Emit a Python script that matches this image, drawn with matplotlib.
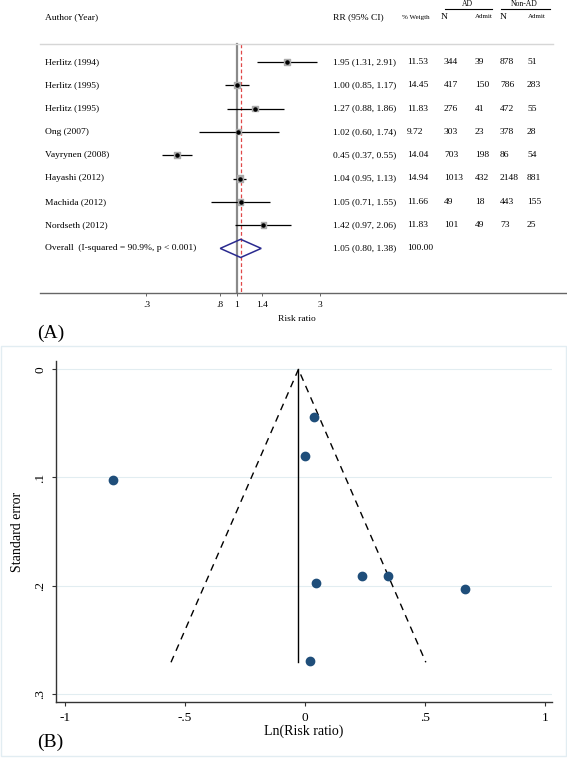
import numpy as np
import matplotlib
matplotlib.use('Agg')
import matplotlib.pyplot as plt
from matplotlib.transforms import blended_transform_factory
from matplotlib.patches import Polygon, Rectangle
from matplotlib.ticker import NullLocator

plt.rcParams['font.family'] = ['Liberation Serif', 'DejaVu Serif']

# forest plot data
studies = ['Herlitz (1994)', 'Herlitz (1995)', 'Herlitz (1995)', 'Ong (2007)',
           'Vayrynen (2008)', 'Hayashi (2012)', 'Machida (2012)', 'Nordseth (2012)']
rr = [1.95, 1.00, 1.27, 1.02, 0.45, 1.04, 1.05, 1.42]
rr_lo = [1.31, 0.85, 0.88, 0.60, 0.37, 0.95, 0.71, 0.97]
rr_hi = [2.91, 1.17, 1.86, 1.74, 0.55, 1.13, 1.55, 2.06]
weights = [11.53, 14.45, 11.83, 9.72, 14.04, 14.94, 11.66, 11.83]
ad_n = [344, 417, 276, 303, 703, 1013, 49, 101]
ad_admit = [39, 150, 41, 23, 198, 432, 18, 49]
nonad_n = [878, 786, 472, 378, 86, 2148, 443, 73]
nonad_admit = [51, 283, 55, 28, 54, 881, 155, 25]
overall_rr, overall_lo, overall_hi = 1.05, 0.80, 1.38
overall_label = 'Overall  (I-squared = 90.9%, p < 0.001)'
rr_ticks = [0.3, 0.8, 1, 1.4, 3]
rr_tick_labels = ['.3', '.8', '1', '1.4', '3']

# funnel plot data
ln_rr = [0.667, 0.000, 0.239, 0.021, -0.800, 0.037, 0.047, 0.348]
se = [0.203, 0.080, 0.191, 0.270, 0.102, 0.044, 0.198, 0.191]
funnel_center = -0.027
funnel_se_max = 0.271
ln_ticks = [-1, -0.5, 0, 0.5, 1]
ln_tick_labels = ['-1', '-.5', '0', '.5', '1']
se_ticks = [0, 0.1, 0.2, 0.3]
se_tick_labels = ['0', '.1', '.2', '.3']

W, H = 567, 758
fig = plt.figure(figsize=(W / 100, H / 100), dpi=100)

# ---- (A) forest plot ----
x0_px, px_per_ln = 237, 75.2
row0_px, row_px = 62, 23.3


def py(p):
    # pixel row -> row units
    return (p - row0_px) / row_px


ax1 = fig.add_axes([0, 1 - 293 / H, 1, 293 / H])
ax1.set_xscale('log')
ax1.set_xlim(np.exp(-x0_px / px_per_ln), np.exp((W - x0_px) / px_per_ln))
ax1.set_ylim(py(293), py(0))
for s in ['top', 'left', 'right']:
    ax1.spines[s].set_visible(False)
ax1.spines['bottom'].set_bounds(np.exp((40 - x0_px) / px_per_ln), np.exp((W - x0_px) / px_per_ln))
ax1.spines['bottom'].set_color('#666666')
ax1.spines['bottom'].set_linewidth(1)
ax1.set_yticks([])
ax1.set_xticks(rr_ticks)
ax1.set_xticklabels(rr_tick_labels)
ax1.xaxis.set_minor_locator(NullLocator())
ax1.tick_params(axis='x', length=2.5, width=0.7, color='#666666', pad=3, labelsize=6.8)

tr = blended_transform_factory(ax1.transAxes, ax1.transData)
n = len(studies)
y = np.arange(n)

ax1.plot([40 / W, 553 / W], [py(44)] * 2, transform=tr, color='#d6d6d6', lw=1)
ax1.plot([1, 1], [py(44), py(293)], color='#8a8a8a', lw=1.6, zorder=1)
ax1.plot([overall_rr] * 2, [py(44), py(293)], color='#e04848', lw=0.9,
         dashes=(3, 2), zorder=1)

ax1.hlines(y, rr_lo, rr_hi, color='black', lw=0.9, zorder=2)
ax1.scatter(rr, y, marker='s', s=np.array(weights) * 1.4, color='#ababab', zorder=3)
ax1.scatter(rr, y, marker='o', s=5, color='black', zorder=4)

dh = 0.39
ax1.add_patch(Polygon([[overall_lo, n], [overall_rr, n - dh], [overall_hi, n],
                       [overall_rr, n + dh]], closed=True, fill=False,
                      edgecolor='#2a2a8f', lw=1.1))

fs = 6.8
hy = py(17)
ax1.text(45 / W, hy, 'Author (Year)', transform=tr, fontsize=fs, va='center')
ax1.text(333 / W, hy, 'RR (95% CI)', transform=tr, fontsize=fs, va='center')
ax1.text(402 / W, hy, '% Weigth', transform=tr, fontsize=5, va='center')
ax1.text(441 / W, hy, 'N', transform=tr, fontsize=fs, va='center')
ax1.text(475 / W, hy, 'Admit', transform=tr, fontsize=5, va='center')
ax1.text(500 / W, hy, 'N', transform=tr, fontsize=fs, va='center')
ax1.text(528 / W, hy, 'Admit', transform=tr, fontsize=5, va='center')
ax1.text(467 / W, py(4.5), 'AD', transform=tr, fontsize=5.5, va='center', ha='center')
ax1.text(524 / W, py(4.5), 'Non-AD', transform=tr, fontsize=5.5, va='center', ha='center')
ax1.plot([445 / W, 492 / W], [py(9)] * 2, transform=tr, color='black', lw=0.8)
ax1.plot([501 / W, 550 / W], [py(9)] * 2, transform=tr, color='black', lw=0.8)

for i in range(n):
    ax1.text(45 / W, i, studies[i], transform=tr, fontsize=fs, va='center')
    ax1.text(333 / W, i, f'{rr[i]:.2f} ({rr_lo[i]:.2f}, {rr_hi[i]:.2f})',
             transform=tr, fontsize=fs, va='center')
    ax1.text(407 / W, i, f'{weights[i]:.2f}', transform=tr, fontsize=fs, va='center')
    ax1.text(444 / W, i, str(ad_n[i]), transform=tr, fontsize=fs, va='center')
    ax1.text(475 / W, i, str(ad_admit[i]), transform=tr, fontsize=fs, va='center')
    ax1.text(500 / W, i, str(nonad_n[i]), transform=tr, fontsize=fs, va='center')
    ax1.text(527 / W, i, str(nonad_admit[i]), transform=tr, fontsize=fs, va='center')
ax1.text(45 / W, n, overall_label, transform=tr, fontsize=fs, va='center')
ax1.text(333 / W, n, f'{overall_rr:.2f} ({overall_lo:.2f}, {overall_hi:.2f})',
         transform=tr, fontsize=fs, va='center')
ax1.text(407 / W, n, f'{sum(weights):.2f}', transform=tr, fontsize=fs, va='center')

fig.text(297 / W, 1 - 319 / H, 'Risk ratio', fontsize=fs, ha='center', va='center')
fig.text(51 / W, 1 - 333 / H, '(A)', fontsize=14, ha='center', va='center')

# ---- (B) funnel plot ----
fig.patches.append(Rectangle((1 / W, 1 - 756 / H), 565 / W, 410 / H,
                             transform=fig.transFigure, fill=False,
                             edgecolor='#e2edf2', lw=1))

ax2 = fig.add_axes([56 / W, 1 - 702.3 / H, 496 / W, 341.6 / H])
ax2.set_xlim(-1.0375, 1.03)
ax2.set_ylim(0.308, -0.008)
ax2.spines['top'].set_visible(False)
ax2.spines['right'].set_visible(False)
for s in ['left', 'bottom']:
    ax2.spines[s].set_color('#333333')
    ax2.spines[s].set_linewidth(1)
ax2.set_axisbelow(True)
ax2.yaxis.grid(True, color='#e2edf1', lw=0.8)
ax2.set_xticks(ln_ticks)
ax2.set_xticklabels(ln_tick_labels)
ax2.set_yticks(se_ticks)
ax2.set_yticklabels(se_tick_labels, rotation=90, va='center')
ax2.tick_params(length=3, width=0.8, color='#333333', labelsize=9.5)
ax2.tick_params(axis='x', pad=4)
ax2.tick_params(axis='y', pad=4)

lo_lim = funnel_center - 1.96 * funnel_se_max
hi_lim = funnel_center + 1.96 * funnel_se_max
ax2.plot([funnel_center, funnel_center], [0, funnel_se_max], color='black', lw=1)
ax2.plot([lo_lim, funnel_center, hi_lim], [funnel_se_max, 0, funnel_se_max],
         color='black', lw=1, dashes=(5, 4))
ax2.scatter(ln_rr, se, s=36, color='#1f4e7a', zorder=3)

fig.text(18 / W, 1 - 531.5 / H, 'Standard error', rotation=90, fontsize=10,
         ha='center', va='center')
fig.text(304 / W, 1 - 731 / H, 'Ln(Risk ratio)', fontsize=10, ha='center', va='center')
fig.text(50 / W, 1 - 742 / H, '(B)', fontsize=14, ha='center', va='center')

fig.savefig('out.png', dpi=100)
